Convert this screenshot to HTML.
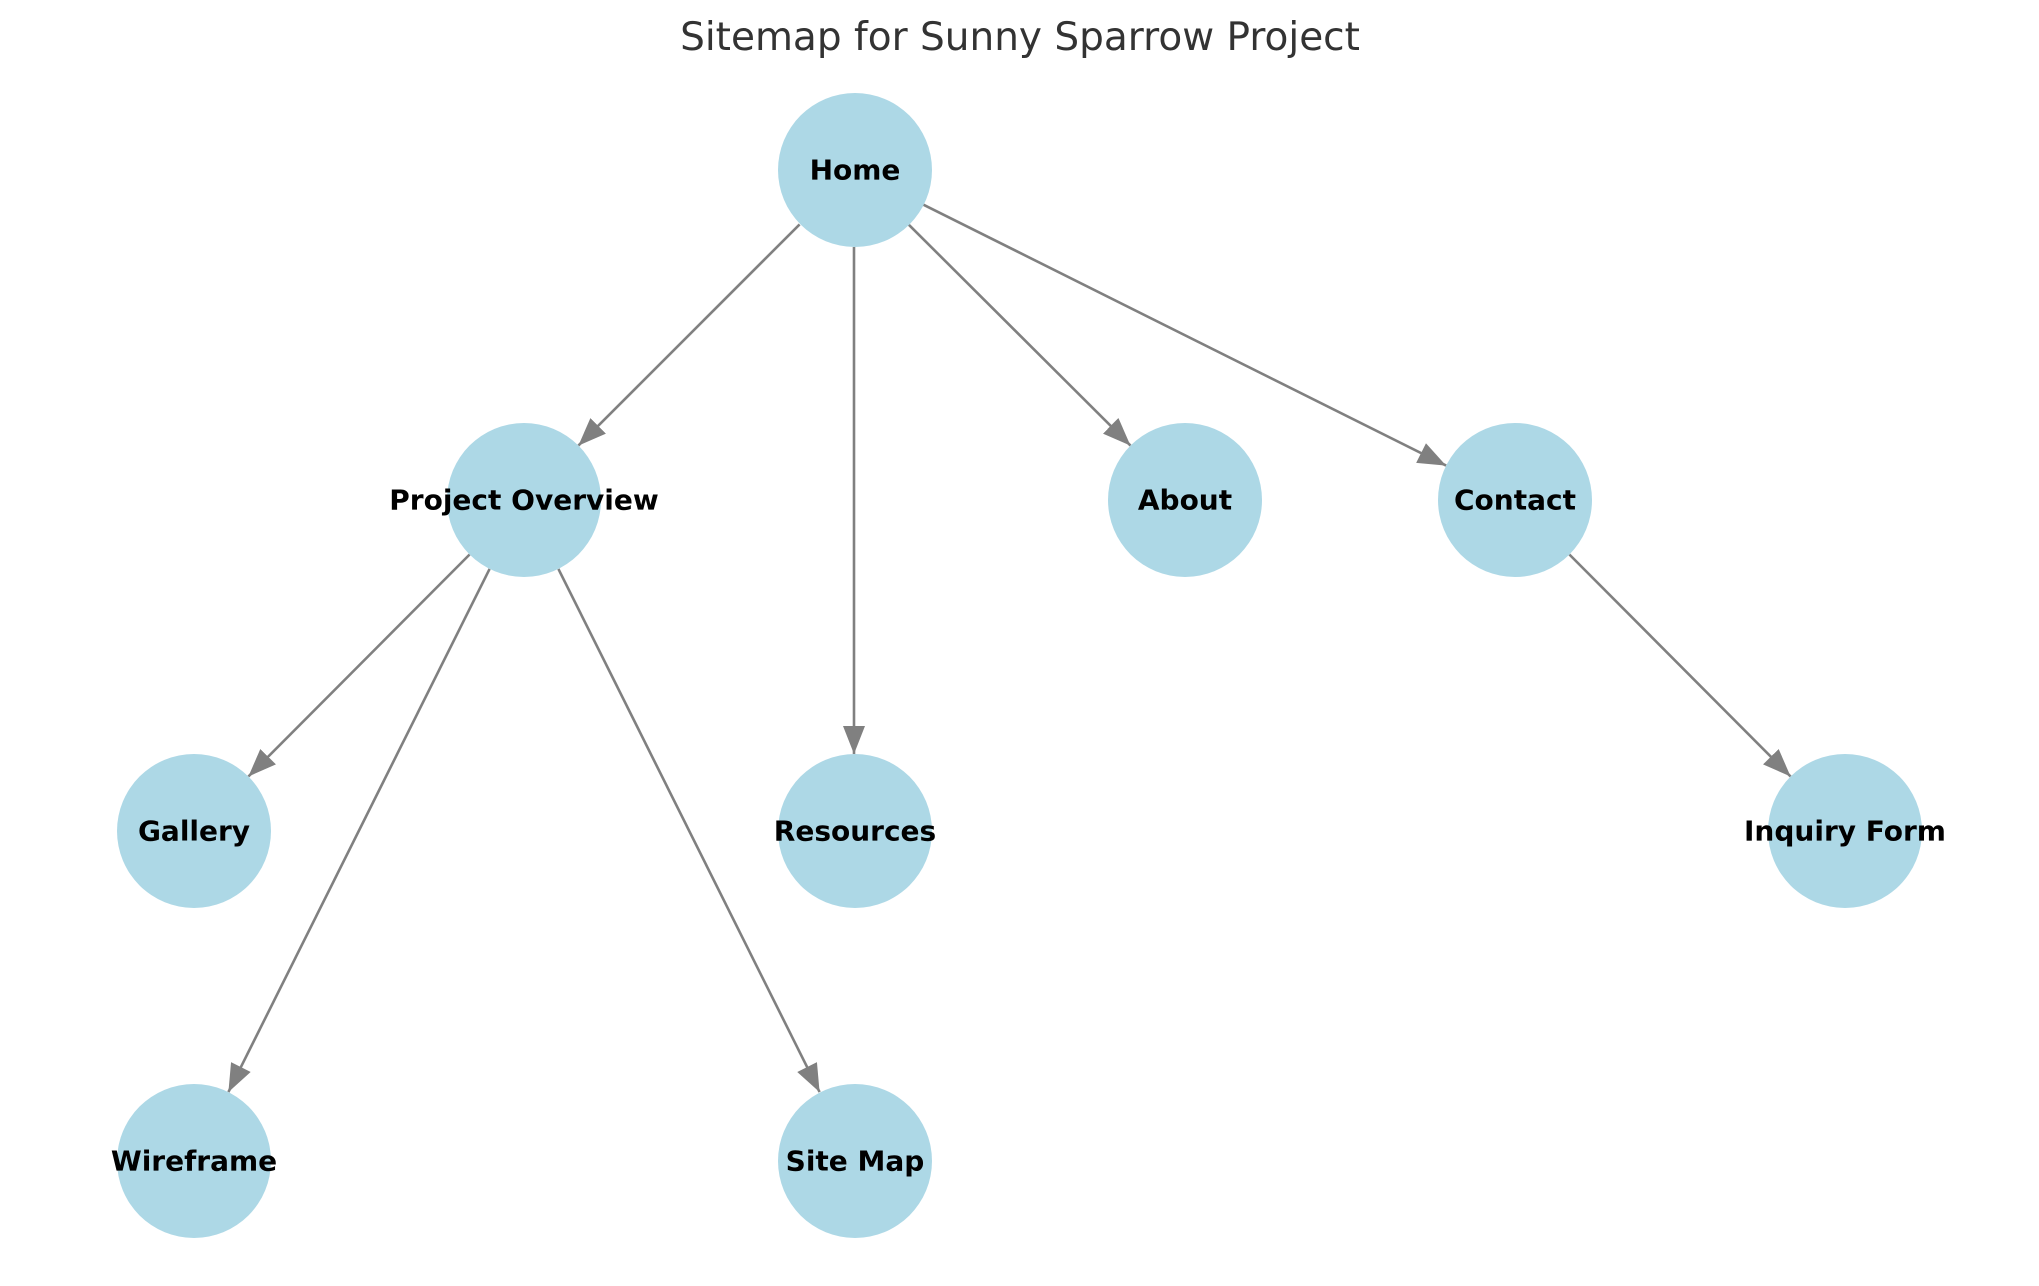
<!DOCTYPE html>
<html><head><meta charset="utf-8"><style>
html,body{margin:0;padding:0;background:#fff;}
svg{display:block;}
.t{font-family:"DejaVu Sans","Liberation Sans",sans-serif;}
.l{font-family:"DejaVu Sans","Liberation Sans",sans-serif;font-weight:bold;font-size:28px;fill:#000;text-anchor:middle;dominant-baseline:central;}
line{stroke:#808080;stroke-width:2.6;}
circle{fill:#add8e6;}
</style></head><body>
<svg width="2039" height="1286" viewBox="0 0 2039 1286" xmlns="http://www.w3.org/2000/svg">
<defs><marker id="a" markerUnits="userSpaceOnUse" markerWidth="30" markerHeight="24" refX="28" refY="11" orient="auto"><path d="M0,0 L28,11 L0,22 z" fill="#808080"/></marker></defs>
<text class="t" x="1020" y="50" font-size="39" fill="#333" text-anchor="middle">Sitemap for Sunny Sparrow Project</text>
<line x1="799.6" y1="224.4" x2="578.4" y2="445.6" marker-end="url(#a)"/>
<line x1="854" y1="247" x2="854" y2="754" marker-end="url(#a)"/>
<line x1="908.5" y1="224.4" x2="1130.5" y2="445.6" marker-end="url(#a)"/>
<line x1="922.9" y1="204.4" x2="1446.1" y2="465.6" marker-end="url(#a)"/>
<line x1="469.6" y1="554.5" x2="248.4" y2="776.5" marker-end="url(#a)"/>
<line x1="489.6" y1="568.9" x2="228.4" y2="1092.1" marker-end="url(#a)"/>
<line x1="558.4" y1="568.9" x2="819.6" y2="1092.1" marker-end="url(#a)"/>
<line x1="1569.4" y1="554.5" x2="1790.6" y2="776.5" marker-end="url(#a)"/>
<circle cx="855" cy="170" r="77"/>
<circle cx="524" cy="500" r="77"/>
<circle cx="1185" cy="500" r="77"/>
<circle cx="1515" cy="500" r="77"/>
<circle cx="194" cy="831" r="77"/>
<circle cx="855" cy="831" r="77"/>
<circle cx="1845" cy="831" r="77"/>
<circle cx="194" cy="1161" r="77"/>
<circle cx="855" cy="1161" r="77"/>
<text class="l" x="855" y="170">Home</text>
<text class="l" x="524" y="500">Project Overview</text>
<text class="l" x="1185" y="500">About</text>
<text class="l" x="1515" y="500">Contact</text>
<text class="l" x="194" y="831">Gallery</text>
<text class="l" x="855" y="831">Resources</text>
<text class="l" x="1845" y="831">Inquiry Form</text>
<text class="l" x="194" y="1161">Wireframe</text>
<text class="l" x="855" y="1161">Site Map</text>
</svg>
</body></html>
